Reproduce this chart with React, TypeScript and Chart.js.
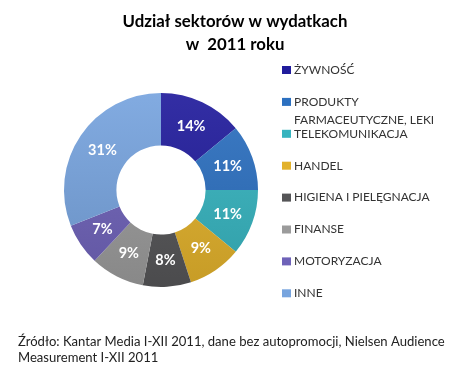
import React, { useEffect, useRef } from 'react';
import { Chart, registerables } from 'chart.js';

Chart.register(...registerables);

const categories = [
  'ŻYWNOŚĆ',
  'PRODUKTY FARMACEUTYCZNE, LEKI',
  'TELEKOMUNIKACJA',
  'HANDEL',
  'HIGIENA I PIELĘGNACJA',
  'FINANSE',
  'MOTORYZACJA',
  'INNE',
];
const legendLines = [
  ['ŻYWNOŚĆ'],
  ['PRODUKTY', 'FARMACEUTYCZNE, LEKI'],
  ['TELEKOMUNIKACJA'],
  ['HANDEL'],
  ['HIGIENA I PIELĘGNACJA'],
  ['FINANSE'],
  ['MOTORYZACJA'],
  ['INNE'],
];
const shares = [14, 11, 11, 9, 8, 9, 7, 31];
const colors = ['#211c9c', '#2c70c0', '#36b4bf', '#e2b12b', '#555557', '#9b9b9b', '#6e62b8', '#77a4de'];
const titleLines = ['Udział sektorów w wydatkach', 'w  2011 roku'];
const sourceLines = [
  'Źródło: Kantar Media I-XII 2011, dane bez autopromocji, Nielsen Audience',
  'Measurement I-XII 2011',
];

function shade(hex: string, amt: number): string {
  const n = parseInt(hex.slice(1), 16);
  const r = (n >> 16) & 255, g = (n >> 8) & 255, b = n & 255;
  const f = (c: number) => {
    const v = amt >= 0 ? c + (255 - c) * amt : c * (1 + amt);
    return Math.max(0, Math.min(255, Math.round(v)));
  };
  return `rgb(${f(r)},${f(g)},${f(b)})`;
}

const FONT = 'Lato, "Open Sans", "DejaVu Sans", sans-serif';

function fitSize(ctx: CanvasRenderingContext2D, text: string, weight: string, base: number, target: number) {
  ctx.font = `${weight} ${base}px ${FONT}`;
  const w = ctx.measureText(text).width;
  return w > 0 ? (base * target) / w : base;
}

const textPlugin = {
  id: 'textPlugin',
  afterDraw(chart: any) {
    const ctx = chart.ctx as CanvasRenderingContext2D;
    ctx.save();
    // Title
    ctx.fillStyle = '#000';
    const ts = fitSize(ctx, titleLines[0], 'bold', 19, 225);
    ctx.font = `bold ${ts}px ${FONT}`;
    ctx.textAlign = 'center';
    ctx.textBaseline = 'alphabetic';
    ctx.fillText(titleLines[0], 235, 27);
    ctx.fillText(titleLines[1], 235, 50);

    // Percent labels
    const meta = chart.getDatasetMeta(0);
    ctx.font = `bold 14.5px ${FONT}`;
    ctx.fillStyle = '#fff';
    ctx.textBaseline = 'middle';
    meta.data.forEach((arc: any, i: number) => {
      const p = arc.getCenterPoint();
      ctx.fillText(`${shares[i]}%`, p.x, p.y);
    });

    // Legend
    ctx.textAlign = 'left';
    ctx.font = `12px ${FONT}`;
    let y = 70;
    legendLines.forEach((lines, i) => {
      ctx.fillStyle = colors[i];
      ctx.fillRect(282, y - 4, 9, 8);
      ctx.fillStyle = '#333';
      lines.forEach((ln, k) => ctx.fillText(ln, 294, y + k * 18));
      y += 31.9;
    });

    // Footer
    ctx.fillStyle = '#222';
    const fs = fitSize(ctx, sourceLines[0], 'normal', 12.5, 427);
    ctx.font = `${fs}px ${FONT}`;
    ctx.textBaseline = 'alphabetic';
    ctx.fillText(sourceLines[0], 18, 346);
    ctx.fillText(sourceLines[1], 18, 362);
    ctx.restore();
  },
};

export default function App() {
  const ref = useRef<HTMLCanvasElement>(null);
  useEffect(() => {
    if (!ref.current) return;
    const chart = new Chart(ref.current, {
      type: 'doughnut',
      data: {
        labels: categories,
        datasets: [
          {
            data: shares,
            backgroundColor: (c: any) => {
              const col = colors[c.dataIndex];
              const area = c.chart.chartArea;
              if (!area) return col;
              const g = c.chart.ctx.createLinearGradient(0, area.top, 0, area.bottom);
              g.addColorStop(0, shade(col, 0.08));
              g.addColorStop(1, shade(col, -0.12));
              return g;
            },
            borderWidth: 0,
          },
        ],
      },
      options: {
        responsive: false,
        animation: false,
        cutout: '46%',
        layout: { padding: { left: 64, right: 216, top: 93, bottom: 91 } },
        plugins: {
          legend: { display: false },
          tooltip: { enabled: false },
          title: { display: false },
        },
      },
      plugins: [textPlugin],
    });
    return () => chart.destroy();
  }, []);
  return (
    <div style={{ position: 'fixed', left: 0, top: 0, width: 474, height: 378, background: '#fff' }}>
      <canvas ref={ref} width={474} height={378} />
    </div>
  );
}
